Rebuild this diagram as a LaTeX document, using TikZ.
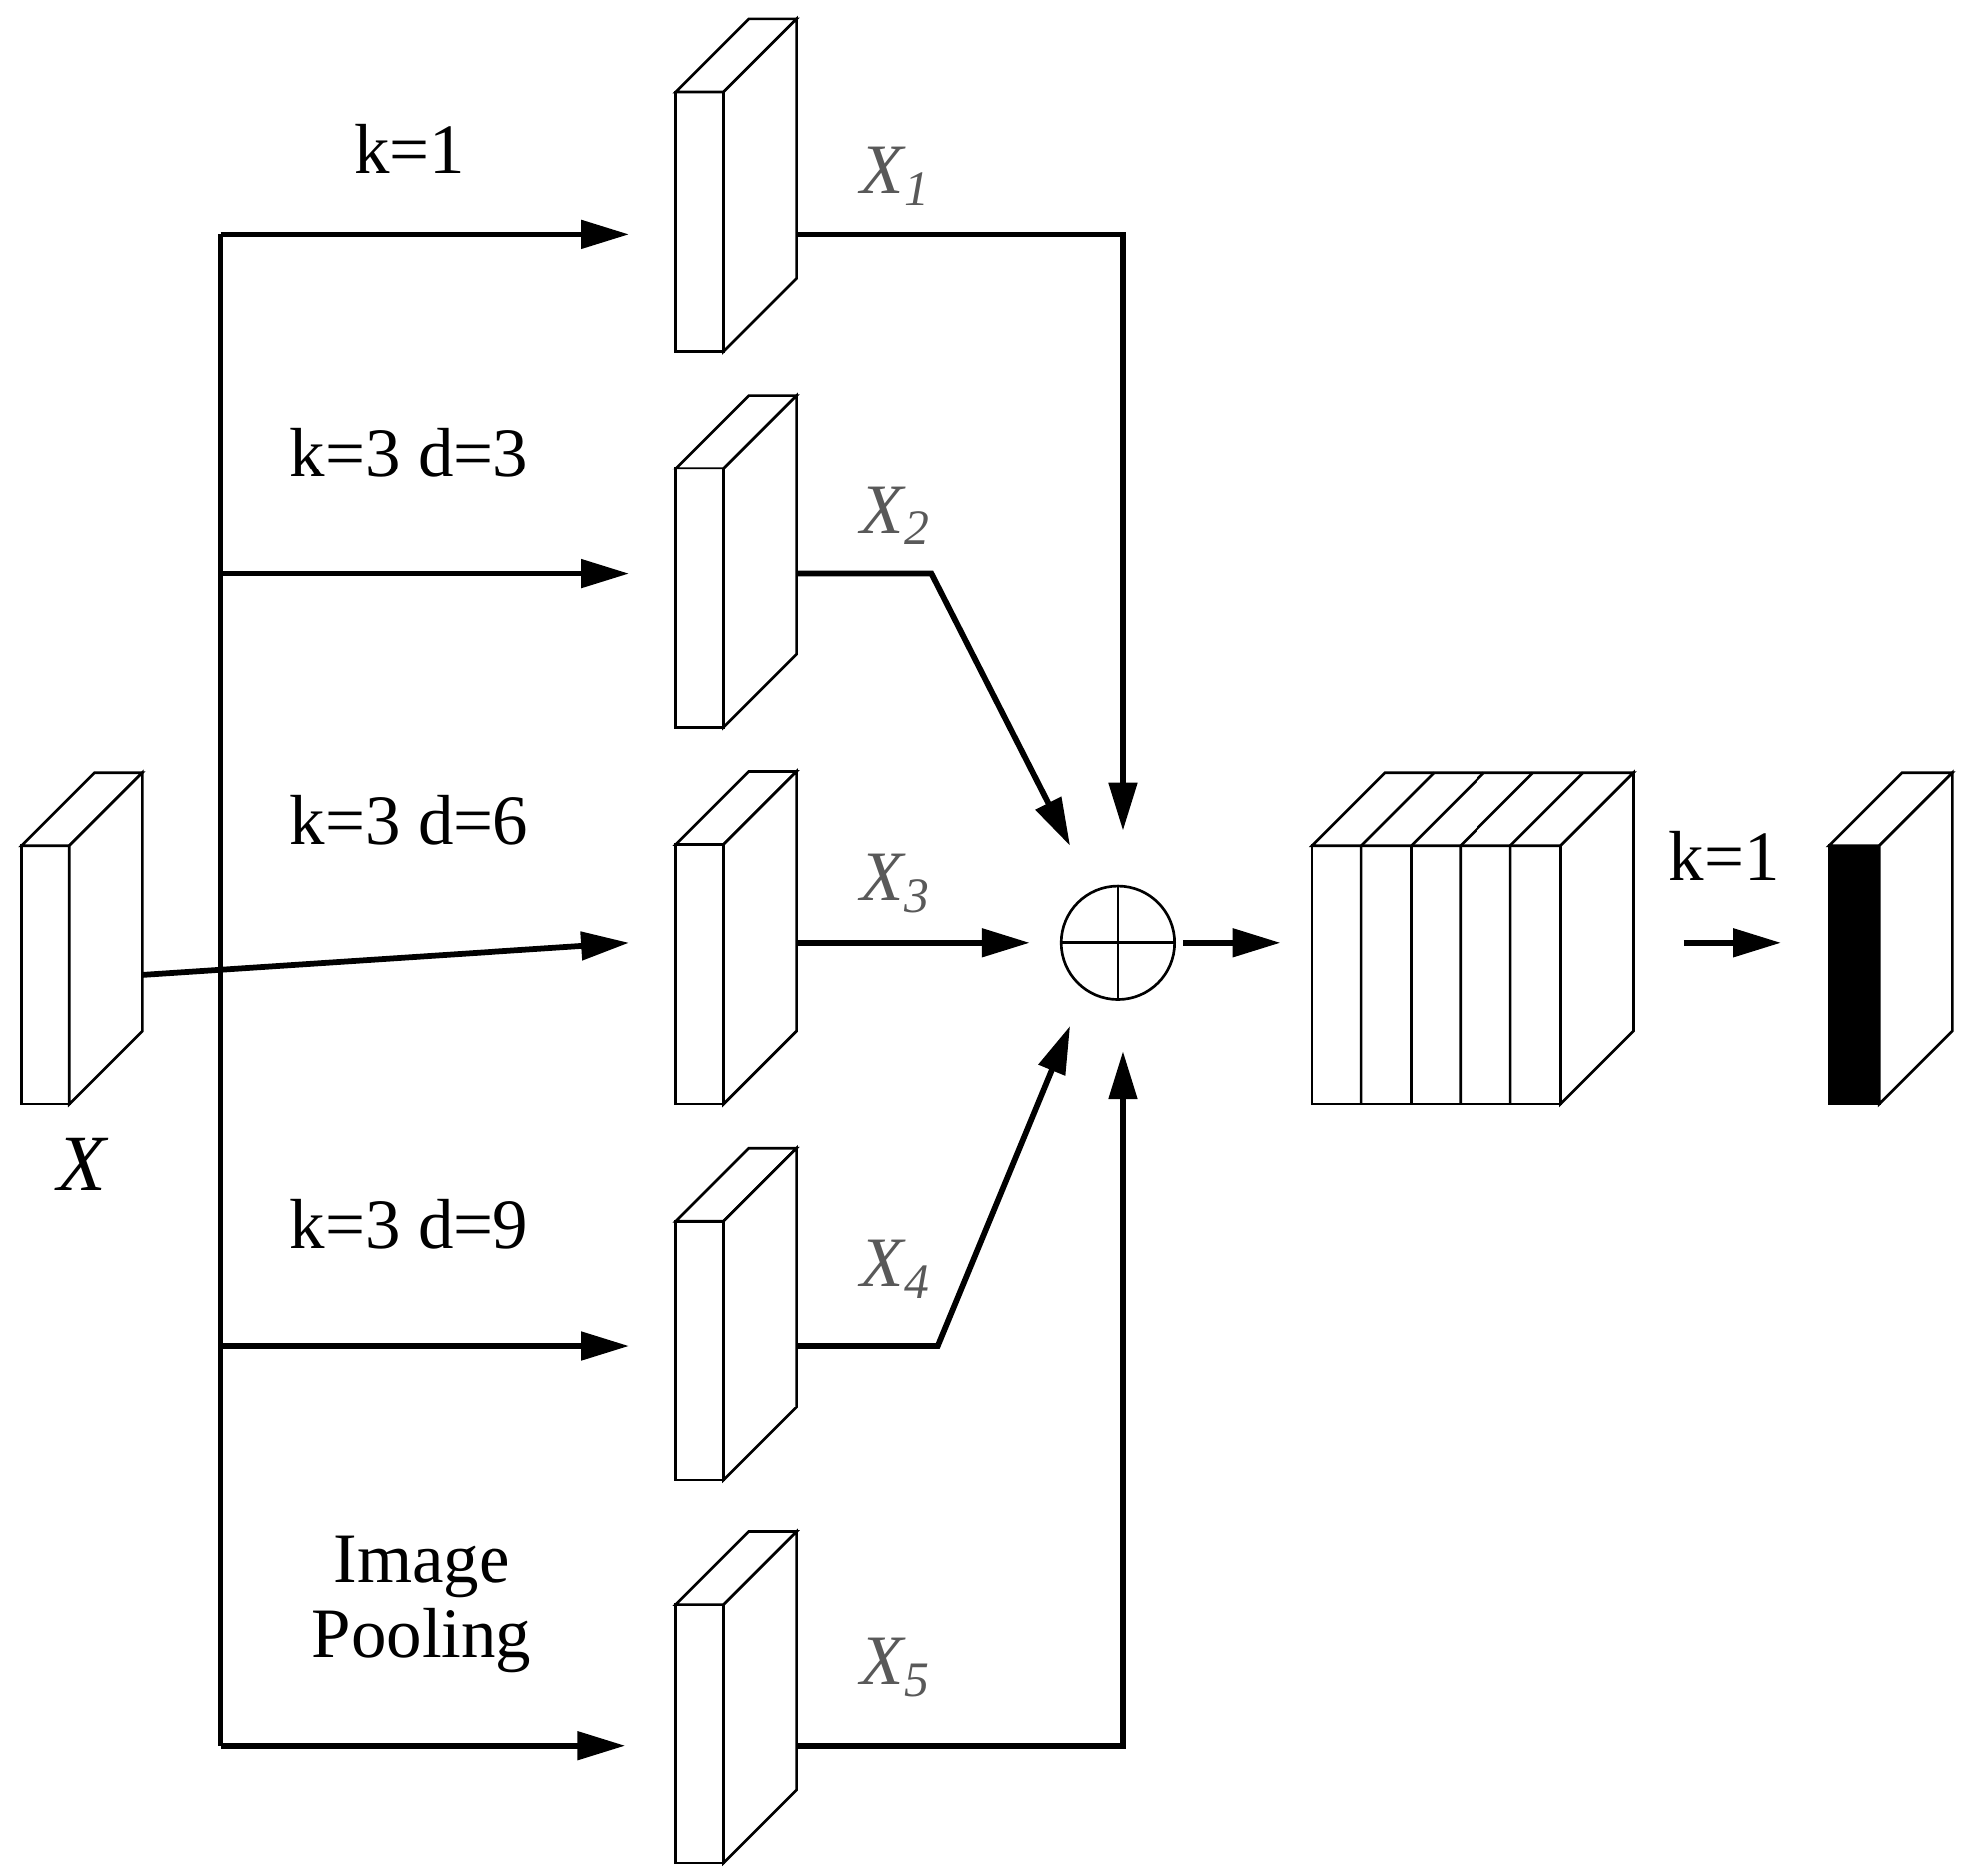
\documentclass[tikz,border=0pt]{standalone}
\usepackage{fontspec}
\setmainfont{Liberation Serif}
\usetikzlibrary{arrows.meta}
\begin{document}
\begin{tikzpicture}[x=0.01cm,y=-0.01cm,
  blk/.style={line width=0.6pt,fill=white},
  conn/.style={line width=1.3pt},
  arr/.style={conn,-{Triangle[length=0.38cm,width=0.22cm]}},
  lab/.style={font=\fontsize{16}{19}\selectfont},
  xl/.style={font=\fontsize{16}{19}\selectfont\itshape,text=black!65}]
\useasboundingbox (0,0) rectangle (1565,1490);
\newcommand\myblk[5]{% x0 x1 ytop ybot name
  \draw[blk] (#1,#3) rectangle (#2,#4);
  \draw[blk] (#1,#3) -- ++(58,-58) -- ++(#2-#1,0) -- (#2,#3) -- cycle;
  \draw[blk] (#2,#4) -- ++(58,-58) -- ++(0,-#4+#3) -- (#2,#3) -- cycle;
  \coordinate (#5) at (#2+58,#4/2+#3/2);}
% input
\myblk{17}{55}{672}{877}{X}
\node[font=\fontsize{18}{20}\selectfont\itshape] at (65,925) {X};
% branch blocks
\myblk{537}{575}{73}{279}{b1}
\myblk{537}{575}{372}{578}{b2}
\myblk{537}{575}{671}{877}{b3}
\myblk{537}{575}{970}{1176}{b4}
\myblk{537}{575}{1275}{1480}{b5}
% input connectors
\coordinate (vt) at (175,186); \coordinate (vb) at (175,1387);
\draw[conn] (vt) -- (vb);
\draw[arr] (vt) -- (500,186);
\draw[arr] (175,456) -- (500,456);
\draw[arr] (X) -- (500,749);
\draw[arr] (175,1069) -- (500,1069);
\draw[arr] (vb) -- (497,1387);
\node[lab] at (325,118) {k=1};
\node[lab] at (325,360) {k=3 d=3};
\node[lab] at (325,652) {k=3 d=6};
\node[lab] at (325,972) {k=3 d=9};
\node[lab,align=center] at (335,1275) {Image\\[-2pt]Pooling};
% sum
\node[draw,circle,line width=0.6pt,minimum size=0.9cm,inner sep=0] (s) at (888,749) {};
\draw[line width=0.6pt] (s.north) -- (s.south) (s.west) -- (s.east);
\draw[arr] (633,186) -- (892,186) -- (892,660);
\draw[arr] (633,456) -- (740,456) -- (850,672);
\draw[arr] (633,749) -- (818,749);
\draw[arr] (633,1069) -- (745,1069) -- (850,815);
\draw[arr] (633,1387) -- (892,1387) -- (892,835);
\node[xl] at (712,140) {X\textsubscript{1}};
\node[xl] at (712,410) {X\textsubscript{2}};
\node[xl] at (712,702) {X\textsubscript{3}};
\node[xl] at (712,1008) {X\textsubscript{4}};
\node[xl] at (712,1325) {X\textsubscript{5}};
\draw[arr] (940,749) -- (1017,749);
% concat block
\myblk{1042}{1240}{672}{877}{c}
\foreach \x in {1081,1121,1160,1200}{\draw[line width=0.6pt] (\x,672) -- (\x,877) (\x,672) -- ++(58,-58);}
\node[lab] at (1370,680) {k=1};
\draw[arr] (1338,749) -- (1415,749);
% output
\myblk{1453}{1493}{672}{877}{o}
\fill[black] (1453,672) rectangle (1493,877);
\end{tikzpicture}
\end{document}
